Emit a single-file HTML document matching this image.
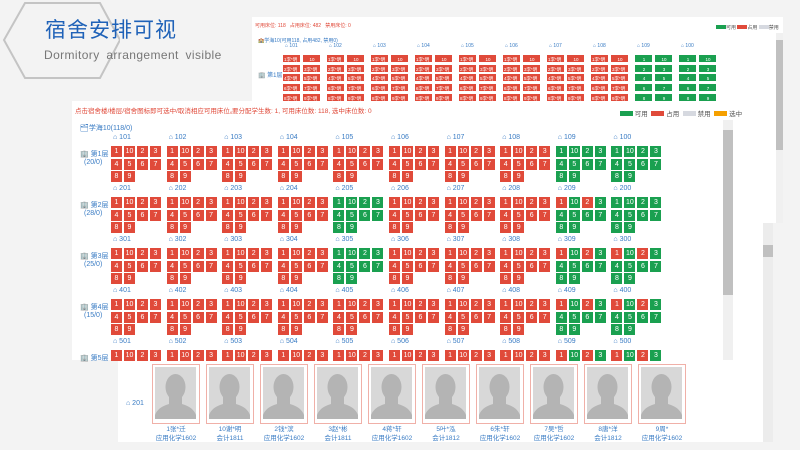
<!DOCTYPE html>
<html><head><meta charset="utf-8"><style>
body{margin:0;width:800px;height:450px;background:#f3f3f3;position:relative;overflow:hidden;font-family:"Liberation Sans","Noto Sans CJK SC",sans-serif}
.a{position:absolute}
.c{position:absolute;color:#fff;font-size:7px;text-align:center;line-height:11px;width:11px;height:11px}
.t{position:absolute;color:#fff;font-size:4.5px;line-height:9px;height:9px;width:19px;white-space:nowrap;overflow:hidden;padding-left:1px}
.bl{color:#3a7cc4}
</style></head><body>
<svg class="a" style="left:0;top:0" width="120" height="90"><polygon points="4,40 25,3 100,3 120,40 100,78 25,78" fill="none" stroke="#c4c4c4" stroke-width="2"/></svg>
<div class="a" style="left:45px;top:18px;font-size:21px;line-height:26px;color:#1f62b8;letter-spacing:1px;white-space:nowrap">宿舍安排可视</div>
<div class="a" style="left:44px;top:46px;font-size:12px;line-height:18px;color:#777;letter-spacing:0.4px;word-spacing:3px;white-space:nowrap">Dormitory arrangement visible</div>

<div class="a" style="left:252px;top:17px;width:531px;height:206px;background:#fff"></div>
<div class="a" style="left:776px;top:33px;width:7px;height:190px;background:#f0f0f0"></div>
<div class="a" style="left:776px;top:40px;width:7px;height:110px;background:#c0c0c0"></div>
<div class="a" style="left:255px;top:22px;font-size:5px;color:#e04a3a">可用床位: 118 &nbsp; 占用床位: 482 &nbsp; 禁用床位: 0</div>
<div class="a bl" style="left:258px;top:37px;font-size:5px">🏫学海10(可用118, 占用482, 禁用0)</div>
<div class="a bl" style="left:258px;top:70px;font-size:6px">🏢 第1层</div>
<div class="a" style="left:716px;top:24px;font-size:5px;color:#555"><span style="display:inline-block;width:10px;height:4px;background:#1aa050"></span>可用 <span style="display:inline-block;width:10px;height:4px;background:#e04a3a"></span>占用 <span style="display:inline-block;width:10px;height:4px;background:#d6d9e0"></span>禁用</div>

<div class="a" style="left:72px;top:101px;width:691px;height:259px;background:#fff"></div>
<div class="a" style="left:723px;top:120px;width:10px;height:240px;background:#f0f0f0"></div>
<div class="a" style="left:723px;top:130px;width:10px;height:165px;background:#c0c0c0"></div>
<div class="a" style="left:118px;top:360px;width:645px;height:82px;background:#fff"></div>
<div class="a" style="left:763px;top:223px;width:10px;height:219px;background:#ececec"></div>
<div class="a" style="left:763px;top:245px;width:10px;height:12px;background:#c0c0c0"></div>
<div class="a" style="left:75px;top:105px;font-size:6.5px;color:#e04a3a">点击宿舍楼/楼层/宿舍图标即可选中/取消相应可用床位。</div>
<div class="a" style="left:232px;top:105px;font-size:6.5px;color:#e04a3a">要分配学生数: 1, 可用床位数: 118, 选中床位数: 0</div>
<div class="a" style="left:620px;top:108px;font-size:6.5px;color:#555;white-space:nowrap"><span style="display:inline-block;width:13px;height:5px;background:#1aa050"></span> 可用 &nbsp;<span style="display:inline-block;width:13px;height:5px;background:#e04a3a"></span> 占用 &nbsp;<span style="display:inline-block;width:13px;height:5px;background:#d6d9e0"></span> 禁用 &nbsp;<span style="display:inline-block;width:13px;height:5px;background:#f5a000"></span> 选中</div>
<div class="a bl" style="left:80px;top:123px;font-size:7px">🗂学海10(118/0)</div>
<div id="g"></div>
<div class="a bl" style="left:126px;top:400px;font-size:7px">⌂ 201</div>
<script>
var R='#e04a3a',G='#1aa050',h='';
for(var r=0;r<10;r++){var x=282+r*44,nm=r==9?'100':'10'+(r+1);var grn=r>=8;
h+='<div class="a bl" style="left:'+(x+3)+'px;top:43px;font-size:5px">⌂ '+nm+'</div>';
var labs=['1','10','2','3','4','5','6','7','8','9'];
for(var i=0;i<10;i++){var cx=x+(i%2)*20,cy=54+Math.floor(i/2)*9.7;
h+='<div class="t" style="left:'+cx+'px;top:'+cy+'px;background:'+(grn?G:R)+';border:0.5px solid #fff;box-sizing:border-box;'+(grn||i==1?'text-align:center':'')+'">'+(grn||i==1?labs[i]:labs[i]+'李*明')+'</div>';}}
var pats={full:'GGGGGGGGGG',mix:'RGRGGGGGGG'};
var lab=['1','10','2','3','4','5','6','7','8','9'];
var cnt=['(20/0)','(28/0)','(25/0)','(15/0)',''];
for(var f=0;f<5;f++){var y=138+f*51;
h+='<div class="a bl" style="left:80px;top:'+(y+11)+'px;font-size:7px">🏢 第'+(f+1)+'层</div>';
h+='<div class="a bl" style="left:84px;top:'+(y+21)+'px;font-size:7px">'+cnt[f]+'</div>';
for(var r=0;r<10;r++){var x=111+r*55.6,nm=(f+1)+''+(r==9?'00':'0'+(r+1));
var p='RRRRRRRRRR';
if(f==0&&r>=8)p=pats.full;
if(f==1&&(r==4||r==9))p=pats.full;if(f==1&&r==8)p=pats.mix;
if(f==2&&r==4)p=pats.full;if(f>=2&&r>=8)p=pats.mix;
h+='<div class="a bl" style="left:'+(x+2)+'px;top:'+(y-4)+'px;font-size:7px">⌂ '+nm+'</div>';
var n=f==4?4:10;
for(var i=0;i<n;i++){var col=i<4?i:(i<8?i-4:i-8),row=i<4?0:(i<8?1:2);
var cy=146+f*51+row*12.5;if(cy>355)continue;
h+='<div class="c" style="left:'+(x+col*13)+'px;top:'+cy+'px;background:'+(p[i]=='G'?G:R)+'">'+lab[i]+'</div>';}}}
var names=['1张*迁','10谢*明','2钱*滨','3赵*彬','4蒋*轩','5叶*泓','6朱*轩','7吴*哲','8唐*洋','9周*'];
var cls=['应用化学1602','会计1811','应用化学1602','会计1811','应用化学1602','会计1812','应用化学1602','应用化学1602','会计1812','应用化学1602'];
for(var k=0;k<10;k++){var x=152+k*54;
h+='<div class="a" style="left:'+x+'px;top:364px;width:46px;height:58px;border:1px solid #f0b0a8;background:#fff"></div>';
h+='<div class="a" style="left:'+(x+3)+'px;top:367px;width:41px;height:52px;background:#d8d8d8;overflow:hidden"><svg width="41" height="52"><ellipse cx="20.5" cy="20" rx="10" ry="13" fill="#b4b4b4"/><path d="M14 30 L14 37 Q3 40 0 48 L0 52 L41 52 L41 48 Q38 40 27 37 L27 30 Z" fill="#b4b4b4"/></svg></div>';
h+='<div class="a bl" style="left:'+(x-10)+'px;top:425px;width:68px;text-align:center;font-size:6.5px;line-height:9px">'+names[k]+'<br>'+cls[k]+'</div>';}
document.getElementById('g').innerHTML=h;
</script>
</body></html>
